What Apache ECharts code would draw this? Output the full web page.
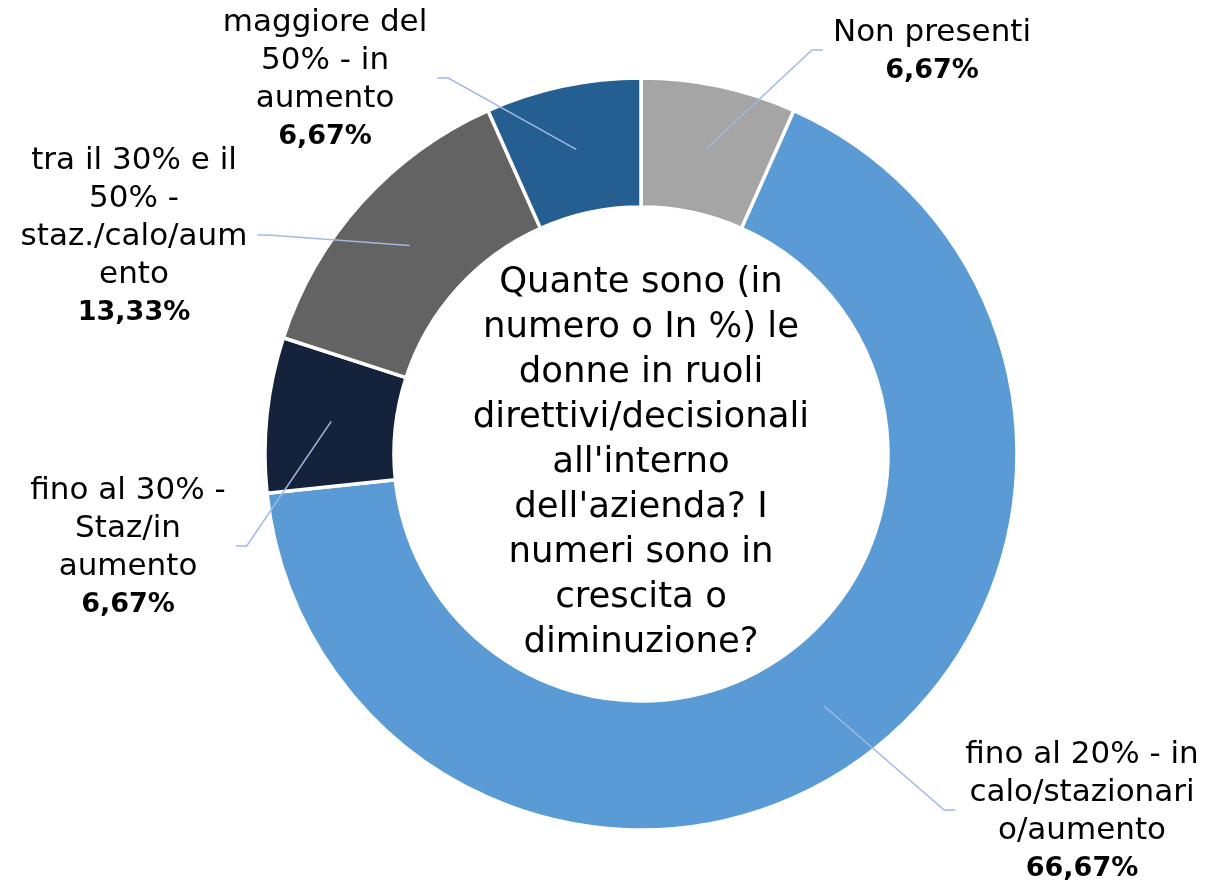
<!DOCTYPE html>
<html>
<head>
<meta charset="utf-8">
<script src="https://cdn.jsdelivr.net/npm/echarts@6/dist/echarts.min.js"></script>
<style>
html,body{margin:0;padding:0;background:#fff;}
#donneRuoliPie{width:1223px;height:885px;}
</style>
</head>
<body>
<div id="donneRuoliPie"></div>
<script>
// dati
var categorie = ['Non presenti', 'fino al 20% - in calo/stazionario/aumento', 'fino al 30% - Staz/in aumento', 'tra il 30% e il 50% - staz./calo/aumento', 'maggiore del 50% - in aumento'];
var percentuali = [6.67, 66.67, 6.67, 13.33, 6.67];
// testo delle etichette spezzato come nel grafico originale
var righeEtichette = [
    ['Non presenti'],
    ['fino al 20% - in', 'calo/stazionari', 'o/aumento'],
    ['fino al 30% -', 'Staz/in', 'aumento'],
    ['tra il 30% e il', '50% -', 'staz./calo/aum', 'ento'],
    ['maggiore del', '50% - in', 'aumento']
];
var domanda = "Quante sono (in\nnumero o In %) le\ndonne in ruoli\ndirettivi/decisionali\nall'interno\ndell'azienda? I\nnumeri sono in\ncrescita o\ndiminuzione?";

var colori = ['#A5A5A5', '#5B9BD5', '#15223C', '#636363', '#255E91'];
var centroX = 641, centroY = 454, rInt = 247, rEst = 376;
// centro delle etichette (posizionate a mano come in Excel)
var posEtichette = [[932, 52], [1082, 812], [128, 548], [134, 237], [325, 80]];
var fontTesto = '"DejaVu Sans", sans-serif';

var totale = 0;
for (var i = 0; i < percentuali.length; i++) totale += percentuali[i];

// punto di partenza della linea guida: metà settore
function ancora(idx){
    var cum = 0;
    for (var j = 0; j < idx; j++) cum += percentuali[j];
    var ang = (90 - 360 * (cum + percentuali[idx] / 2) / totale) * Math.PI / 180;
    var rm = (rInt + rEst) / 2;
    return [centroX + rm * Math.cos(ang), centroY - rm * Math.sin(ang)];
}

var dati = [], datiEtichette = [];
for (var k = 0; k < categorie.length; k++) {
    dati.push({name: categorie[k], value: percentuali[k], itemStyle: {color: colori[k]}});
    datiEtichette.push({name: categorie[k], value: percentuali[k]});
}

var myChart = echarts.init(document.getElementById('donneRuoliPie'));
var option = {
    animation: false,
    backgroundColor: '#fff',
    graphic: [{
        type: 'text',
        x: centroX,
        y: 463,
        style: {
            text: domanda,
            align: 'center',
            verticalAlign: 'middle',
            fontSize: 35.5,
            lineHeight: 45,
            fontFamily: fontTesto,
            fill: '#000'
        }
    }],
    series: [{
        // anello
        type: 'pie',
        z: 2,
        center: [centroX, centroY],
        radius: [rInt, rEst],
        startAngle: 90,
        clockwise: true,
        silent: true,
        data: dati,
        itemStyle: {borderColor: '#fff', borderWidth: 3.5},
        label: {show: false},
        labelLine: {show: false}
    }, {
        // etichette e linee guida sopra l'anello
        type: 'pie',
        z: 5,
        center: [centroX, centroY],
        radius: [rInt, rEst],
        startAngle: 90,
        clockwise: true,
        silent: true,
        avoidLabelOverlap: false,
        data: datiEtichette,
        itemStyle: {color: 'rgba(0,0,0,0)', borderWidth: 0},
        label: {
            show: true,
            position: 'outside',
            formatter: function(p){
                var r = righeEtichette[p.dataIndex].map(function(t){ return '{n|' + t + '}'; });
                r.push('{p|' + percentuali[p.dataIndex].toFixed(2).replace('.', ',') + '%}');
                return r.join('\n');
            },
            rich: {
                n: {fontSize: 31, lineHeight: 38, fontFamily: fontTesto, color: '#000', align: 'center'},
                p: {fontSize: 27, lineHeight: 38, fontFamily: fontTesto, fontWeight: 'bold', color: '#000', align: 'center'}
            }
        },
        labelLine: {
            show: true,
            lineStyle: {color: '#A3B8E2', width: 1.5}
        },
        labelLayout: function(params){
            var i = params.dataIndex;
            var pos = posEtichette[i];
            var a = ancora(i);
            var w = params.labelRect.width;
            var dir = pos[0] > a[0] ? -1 : 1;
            var fine = [pos[0] + dir * (w / 2 + 10), pos[1] - 2];
            var gomito = [fine[0] + dir * 11, fine[1]];
            return {
                x: pos[0],
                y: pos[1],
                align: 'center',
                verticalAlign: 'middle',
                labelLinePoints: [a, gomito, fine]
            };
        }
    }]
};
myChart.setOption(option);
</script>
</body>
</html>
